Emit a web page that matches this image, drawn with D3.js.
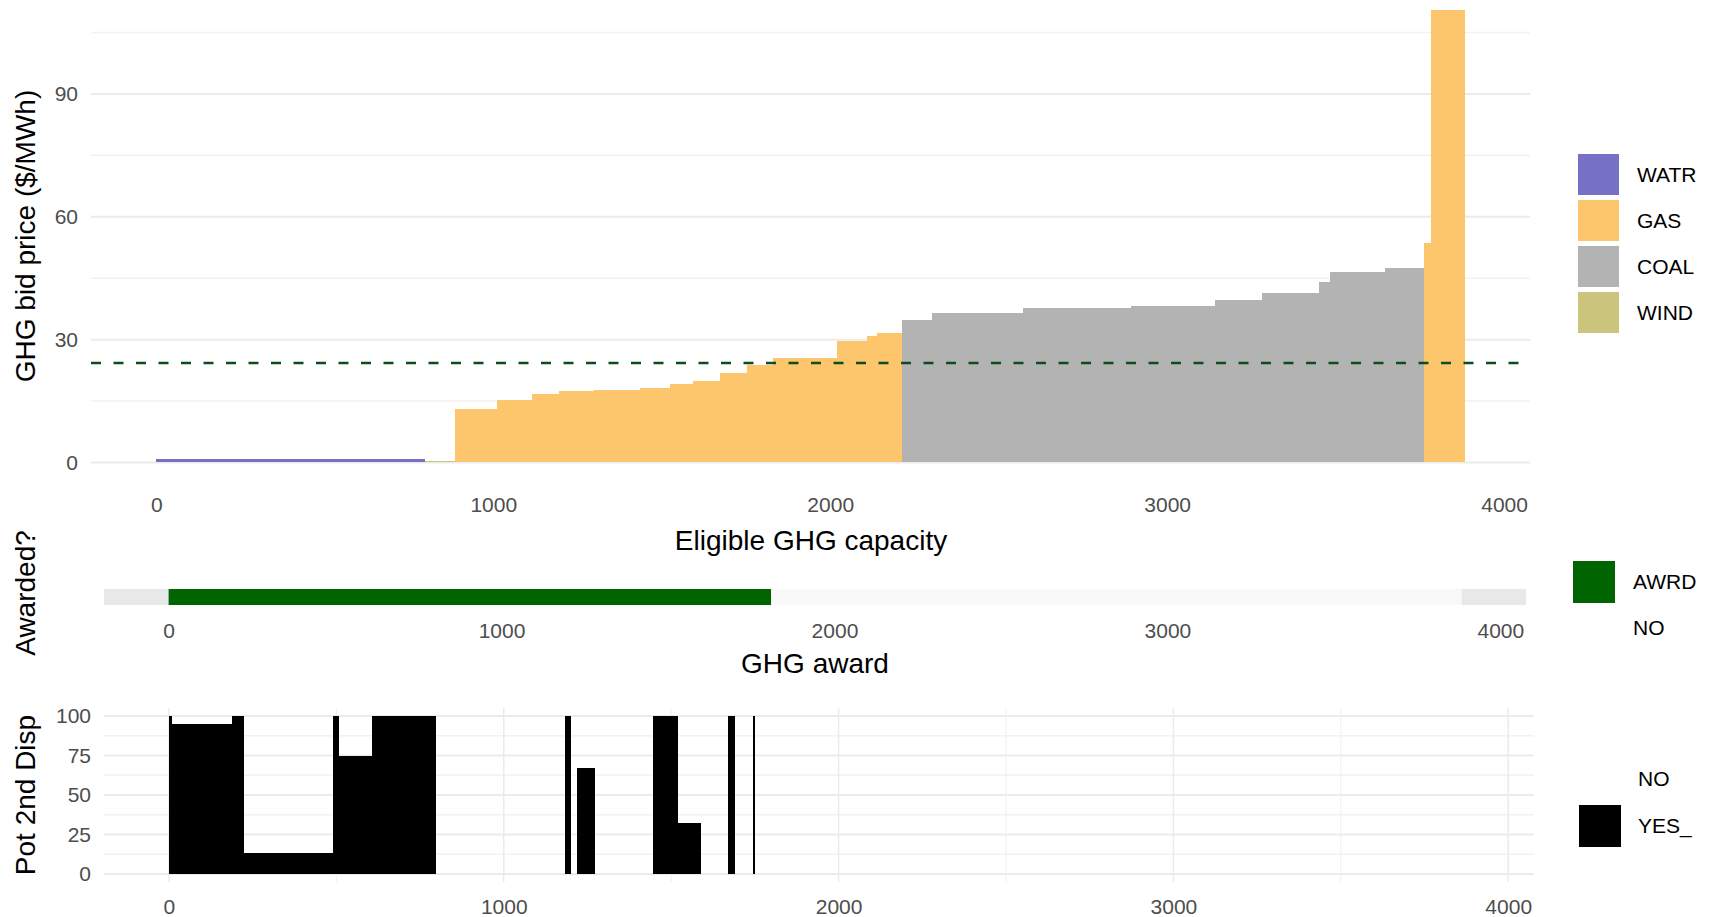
<!DOCTYPE html>
<html>
<head>
<meta charset="utf-8">
<script src="https://cdn.jsdelivr.net/npm/d3@7"></script>
<style>
  body { margin: 0; background: #fff; }
  text { font-family: "Liberation Sans", Arial, sans-serif; }
</style>
</head>
<body>
<div id="chart"></div>
<script>
// bid stack: fuel, start of each step (MW) and its bid price
let fuelNames = ["WATR", "GAS", "COAL", "WIND"]
let fuelColors = ["#7670c6", "#fdc66c", "#b3b3b3", "#cbc47d"]
let stepFuel = ["WATR", "WIND", "GAS", "GAS", "GAS", "GAS", "GAS", "GAS", "GAS", "GAS", "GAS", "GAS", "GAS", "GAS", "GAS", "GAS",
    "COAL", "COAL", "COAL", "COAL", "COAL", "COAL", "COAL", "COAL", "COAL", "GAS", "GAS"]
let stepStart = [0, 797, 886, 1010, 1114, 1194, 1300, 1435, 1524, 1593, 1672, 1752, 1831, 2019, 2108, 2140,
    2212, 2301, 2573, 2894, 3141, 3283, 3451, 3483, 3646, 3762, 3784]
let stepPrice = [0.8, 0.3, 13.0, 15.3, 16.6, 17.4, 17.7, 18.3, 19.1, 20.0, 21.9, 23.9, 25.6, 29.7, 30.9, 31.6,
    34.8, 36.4, 37.8, 38.2, 39.6, 41.3, 44.0, 46.6, 47.4, 53.5, 110.5]
let stackEnd = 3883
let clearingPrice = 24.3

// award strip
let awardCats = ["AWRD", "NO"]
let awardColors = ["#006400", "#f9f9f9"]
let awardStart = [0, 1810]
let awardEnd = [1810, 3883]

// potential 2nd dispatch
let dispCats = ["NO", "YES_"]
let dispStart = [0, 8, 187, 222, 489, 506, 605, 1183, 1220, 1445, 1518, 1669, 1743]
let dispEnd = [8, 187, 222, 489, 506, 605, 797, 1200, 1272, 1518, 1588, 1689, 1750]
let dispValue = [100, 94.8, 100, 13.5, 100, 74.5, 100, 100, 67.2, 100, 32.6, 100, 100]

let xTicks = [0, 1000, 2000, 3000, 4000]
let priceTicks = [0, 30, 60, 90]
let priceMinor = [15, 45, 75, 105]
let dispTicks = [0, 25, 50, 75, 100]

let width = 1715, height = 917
let tickColor = "#4d4d4d", gridColor = "#ebebeb", minorColor = "#f2f2f2"

let svg = d3.select("#chart").append("svg")
    .attr("width", width)
    .attr("height", height)

let color = d3.scaleOrdinal().domain(fuelNames).range(fuelColors)

let steps = stepStart.map(function(s, i) {
    return { fuel: stepFuel[i], x0: s, x1: i < stepStart.length - 1 ? stepStart[i + 1] : stackEnd, price: stepPrice[i] }
})

function styleAxis(g) {
    g.select(".domain").remove()
    g.selectAll("text").attr("font-size", 21).attr("fill", tickColor)
}

// ---------- top panel ----------
let xTop = d3.scaleLinear().domain([-194, 4077]).range([91, 1530])
let yTop = d3.scaleLinear().domain([-5.5, 115.5]).range([485, -10.5])

svg.append("g").selectAll("line")
    .data(priceMinor.concat(priceTicks))
    .enter().append("line")
    .attr("x1", 91).attr("x2", 1530)
    .attr("y1", function(d) { return yTop(d) }).attr("y2", function(d) { return yTop(d) })
    .attr("stroke", function(d) { return priceTicks.indexOf(d) >= 0 ? gridColor : minorColor })
    .attr("stroke-width", function(d) { return priceTicks.indexOf(d) >= 0 ? 2 : 1.6 })

svg.append("g").selectAll("rect")
    .data(steps)
    .enter().append("rect")
    .attr("x", function(d) { return xTop(d.x0) })
    .attr("width", function(d) { return xTop(d.x1) - xTop(d.x0) + 0.6 })
    .attr("y", function(d) { return yTop(d.price) })
    .attr("height", function(d) { return yTop(0) - yTop(d.price) })
    .attr("fill", function(d) { return color(d.fuel) })
    .attr("shape-rendering", "crispEdges")

svg.append("line")
    .attr("x1", 91).attr("x2", 1530)
    .attr("y1", yTop(clearingPrice)).attr("y2", yTop(clearingPrice))
    .attr("stroke", "#0d4d1a")
    .attr("stroke-width", 2.5)
    .attr("stroke-dasharray", "10,12.5")

svg.append("g")
    .attr("transform", "translate(0,485)")
    .call(d3.axisBottom(xTop).tickValues(xTicks).tickFormat(d3.format("d")).tickSize(0).tickPadding(12))
    .call(styleAxis)

svg.append("g")
    .attr("transform", "translate(91,0)")
    .call(d3.axisLeft(yTop).tickValues(priceTicks).tickSize(0).tickPadding(13))
    .call(styleAxis)

svg.append("text")
    .attr("x", 811).attr("y", 550)
    .attr("text-anchor", "middle")
    .attr("font-size", 28)
    .text("Eligible GHG capacity")

svg.append("text")
    .attr("transform", "translate(35,236) rotate(-90)")
    .attr("text-anchor", "middle")
    .attr("font-size", 28)
    .text("GHG bid price ($/MWh)")

// fuel legend
let fuelLegend = svg.append("g").selectAll("g")
    .data(fuelNames)
    .enter().append("g")
    .attr("transform", function(d, i) { return "translate(1578," + (154 + i * 46) + ")" })
fuelLegend.append("rect")
    .attr("width", 41).attr("height", 41)
    .attr("fill", function(d) { return color(d) })
fuelLegend.append("text")
    .attr("x", 59).attr("y", 21)
    .attr("dy", "0.35em")
    .attr("font-size", 21)
    .text(function(d) { return d })

// ---------- award strip ----------
let xMid = d3.scaleLinear().domain([-194, 4077]).range([104, 1526])

svg.append("rect")
    .attr("x", xMid(-194)).attr("width", xMid(0) - xMid(-194))
    .attr("y", 589).attr("height", 16)
    .attr("fill", "#e8e8e8")
svg.append("rect")
    .attr("x", xMid(stackEnd)).attr("width", xMid(4077) - xMid(stackEnd))
    .attr("y", 589).attr("height", 16)
    .attr("fill", "#e8e8e8")

svg.append("g").selectAll("rect")
    .data(awardCats)
    .enter().append("rect")
    .attr("x", function(d, i) { return xMid(awardStart[i]) })
    .attr("width", function(d, i) { return xMid(awardEnd[i]) - xMid(awardStart[i]) })
    .attr("y", 589).attr("height", 16)
    .attr("fill", function(d, i) { return awardColors[i] })

svg.append("g")
    .attr("transform", "translate(0,610)")
    .call(d3.axisBottom(xMid).tickValues(xTicks).tickFormat(d3.format("d")).tickSize(0).tickPadding(13))
    .call(styleAxis)

svg.append("text")
    .attr("x", 815).attr("y", 673)
    .attr("text-anchor", "middle")
    .attr("font-size", 28)
    .text("GHG award")

svg.append("text")
    .attr("transform", "translate(35,593) rotate(-90)")
    .attr("text-anchor", "middle")
    .attr("font-size", 28)
    .text("Awarded?")

svg.append("rect")
    .attr("x", 1573).attr("y", 561)
    .attr("width", 42).attr("height", 42)
    .attr("fill", awardColors[0])
svg.append("text")
    .attr("x", 1633).attr("y", 582).attr("dy", "0.35em")
    .attr("font-size", 21).text(awardCats[0])
svg.append("text")
    .attr("x", 1633).attr("y", 628).attr("dy", "0.35em")
    .attr("font-size", 21).text(awardCats[1])

// ---------- potential 2nd dispatch ----------
let xBot = d3.scaleLinear().domain([-194, 4077]).range([104, 1534])
let yBot = d3.scaleLinear().domain([-5, 105]).range([882, 708])

svg.append("g").selectAll("line")
    .data([12.5, 37.5, 62.5, 87.5])
    .enter().append("line")
    .attr("x1", 104).attr("x2", 1534)
    .attr("y1", function(d) { return yBot(d) }).attr("y2", function(d) { return yBot(d) })
    .attr("stroke", minorColor).attr("stroke-width", 1.6)
svg.append("g").selectAll("line")
    .data(dispTicks)
    .enter().append("line")
    .attr("x1", 104).attr("x2", 1534)
    .attr("y1", function(d) { return yBot(d) }).attr("y2", function(d) { return yBot(d) })
    .attr("stroke", gridColor).attr("stroke-width", 2)
svg.append("g").selectAll("line")
    .data([500, 1500, 2500, 3500])
    .enter().append("line")
    .attr("x1", function(d) { return xBot(d) }).attr("x2", function(d) { return xBot(d) })
    .attr("y1", 708).attr("y2", 882)
    .attr("stroke", minorColor).attr("stroke-width", 1.2)
svg.append("g").selectAll("line")
    .data(xTicks)
    .enter().append("line")
    .attr("x1", function(d) { return xBot(d) }).attr("x2", function(d) { return xBot(d) })
    .attr("y1", 708).attr("y2", 882)
    .attr("stroke", gridColor).attr("stroke-width", 1.5)

svg.append("g").selectAll("rect")
    .data(dispValue)
    .enter().append("rect")
    .attr("x", function(d, i) { return xBot(dispStart[i]) })
    .attr("width", function(d, i) { return xBot(dispEnd[i]) - xBot(dispStart[i]) + 0.6 })
    .attr("y", function(d) { return yBot(d) })
    .attr("height", function(d) { return yBot(0) - yBot(d) })
    .attr("fill", "#000")
    .attr("shape-rendering", "crispEdges")

svg.append("g")
    .attr("transform", "translate(0,882)")
    .call(d3.axisBottom(xBot).tickValues(xTicks).tickFormat(d3.format("d")).tickSize(0).tickPadding(17))
    .call(styleAxis)

svg.append("g")
    .attr("transform", "translate(104,0)")
    .call(d3.axisLeft(yBot).tickValues(dispTicks).tickSize(0).tickPadding(13))
    .call(styleAxis)

svg.append("text")
    .attr("transform", "translate(35,795) rotate(-90)")
    .attr("text-anchor", "middle")
    .attr("font-size", 28)
    .text("Pot 2nd Disp")

svg.append("text")
    .attr("x", 1638).attr("y", 779).attr("dy", "0.35em")
    .attr("font-size", 21).text(dispCats[0])
svg.append("rect")
    .attr("x", 1579).attr("y", 805)
    .attr("width", 42).attr("height", 42)
    .attr("fill", "#000")
svg.append("text")
    .attr("x", 1638).attr("y", 826).attr("dy", "0.35em")
    .attr("font-size", 21).text(dispCats[1])
</script>
</body>
</html>
